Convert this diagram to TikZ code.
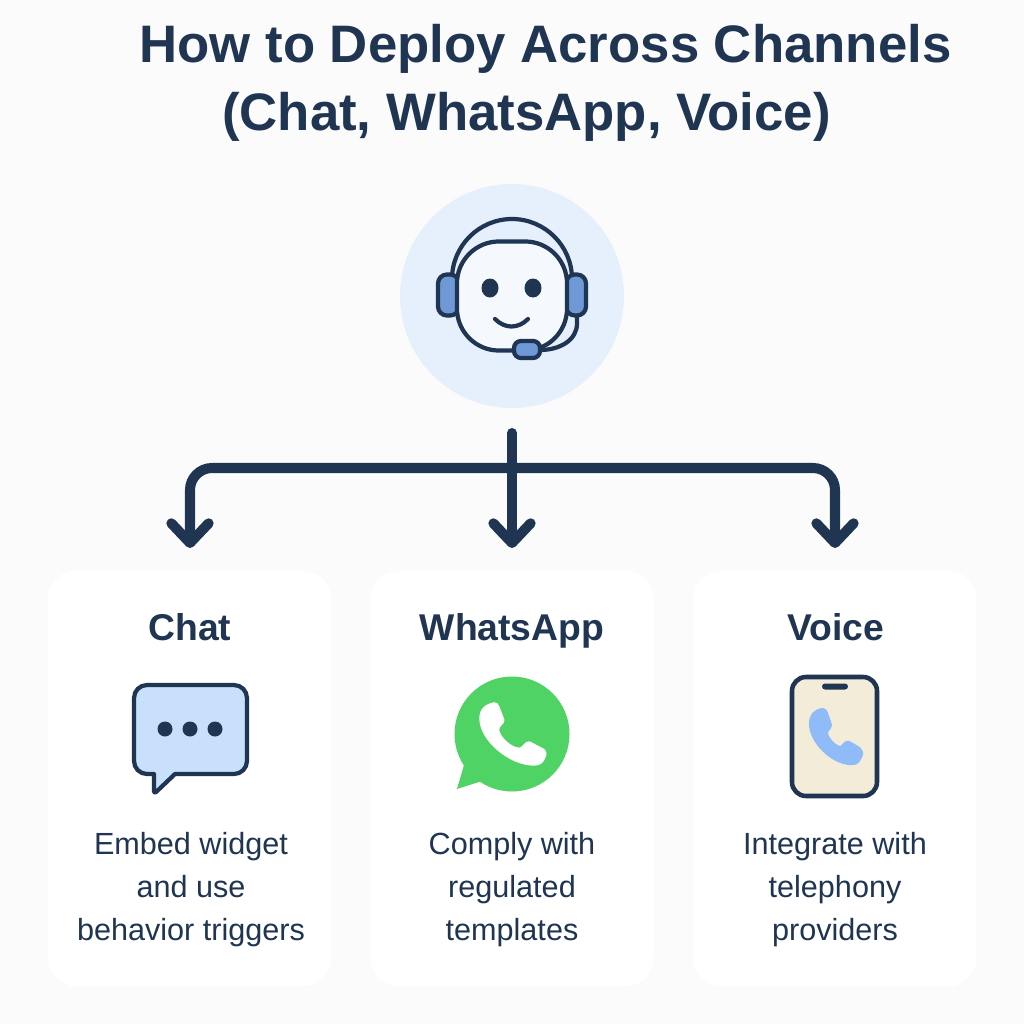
\documentclass[tikz,border=0pt]{standalone}
\usepackage{fontspec}
\setmainfont{Liberation Sans}
\usepackage{tikz}
\usetikzlibrary{arrows.meta,positioning}

\definecolor{ink}{HTML}{1F3552}
\definecolor{page}{HTML}{FBFBFC}
\definecolor{disc}{HTML}{E6F0FC}
\definecolor{facefill}{HTML}{F5F9FE}
\definecolor{cup}{HTML}{6F99D6}
\definecolor{bubble}{HTML}{C9E0FD}
\definecolor{wagreen}{HTML}{4FD364}
\definecolor{screen}{HTML}{F3ECD9}
\definecolor{receiver}{HTML}{8FBCF8}

\tikzset{
	card/.style={fill=white,rounded corners=0.28cm,minimum width=2.83cm,minimum height=4.15cm,inner sep=0pt},
	cardhead/.style={text=ink,anchor=base,font=\fontsize{10.6}{13}\selectfont\bfseries},
	cardtext/.style={text=ink,align=center,font=\fontsize{8.7}{12.2}\selectfont},
	bigtitle/.style={text=ink,anchor=base,font=\fontsize{15}{18}\selectfont\bfseries},
	flow/.style={draw=ink,line width=2.85pt,line cap=round,rounded corners=0.22cm},
	tipped/.style={-{Straight Barb[length=5.6pt,width=10.6pt,round]}},
	icon/.style={draw=ink,line width=1.2pt,line join=round},
	part/.style={icon,inner sep=0pt,outer sep=0pt}
}

\newcommand{\handset}[5]{
	\path[#1,line join=round,shift={(#2,#3)},xscale=#4,yscale=#5]
		(0,25) .. controls (0,10) and (8,3) .. (21,0) .. controls (24,-1) and (27,2) .. (28,5)
		-- (36,27) .. controls (37,33) and (28,36) .. (28,43)
		.. controls (29,55) and (48,74) .. (60,73) .. controls (66,72) and (68,62) .. (75,63)
		-- (95,74) .. controls (100,77) and (101,82) .. (98,88)
		.. controls (96,94) and (92,100) .. (82,100) .. controls (45,100) and (0,60) .. (0,25) -- cycle;
}

\begin{document}
\begin{tikzpicture}[x=0.01cm,y=-0.01cm,node distance=3.225cm]
	\path[use as bounding box,fill=page] (0,0) rectangle (1024,1024);

	\node[bigtitle]	(titletop)	at (545.5,62) {How to Deploy Across Channels};
	\node[bigtitle]	(titlebot)	at (526.5,130) {(Chat, WhatsApp, Voice)};

	\node[circle,fill=disc,minimum size=2.24cm,inner sep=0pt]	(hub)	at (512,296) {};
	\draw[icon] (452,279) .. controls (452,246) and (479,219) .. (512,219) .. controls (545,219) and (572,246) .. (572,279);
	\node[part,fill=cup,rounded corners=0.09cm,minimum width=0.21cm,minimum height=0.41cm]	(cupleft)	at (448.5,295) {};
	\node[part,fill=cup,rounded corners=0.09cm,minimum width=0.2cm,minimum height=0.41cm]	(cupright)	at (576,295) {};
	\node[part,fill=facefill,rounded corners=0.42cm,minimum width=1.1cm,minimum height=1.09cm]	(face)	at (512,296) {};
	\fill[ink] (490,288) ellipse[x radius=8.5,y radius=9.5];
	\fill[ink] (533,288) ellipse[x radius=8.5,y radius=9.5];
	\draw[icon,line cap=round] (495,319) .. controls (505,329) and (518,329) .. (528,319);
	\draw[icon] (cupright.south) ++(1,0) -- ++(0,8) .. controls (577,340) and (560,350) .. (540,350);
	\node[part,fill=cup,rounded corners=0.07cm,minimum width=0.26cm,minimum height=0.17cm]	(mic)	at (527,349.5) {};

	\coordinate	(fork)	at (512,468);
	\coordinate	(stem)	at (512,433);
	\coordinate	(chatin)	at (190,548);
	\coordinate	(appin)	at (512,548);
	\coordinate	(voicein)	at (835,548);
	\draw[flow,tipped] (fork) -| (chatin);
	\draw[flow,tipped] (fork) -| (voicein);
	\draw[flow,tipped] (stem) -- (appin);

	\node[card]	(chat)	at (189.5,778.5) {};
	\node[card]	(app)	[right of=chat] {};
	\node[card]	(voice)	[right of=app] {};

	\node[cardhead]	(chathead)	at (190,640) {Chat};
	\node[cardhead]	(apphead)	at (512,640) {WhatsApp};
	\node[cardhead]	(voicehead)	at (836,640) {Voice};

	\draw[icon,fill=bubble,rounded corners=0.13cm] (134,685) -- (247,685) -- (247,774) [sharp corners] -- (175,774) [rounded corners=0.03cm] -- (154,794) [sharp corners] -- (154,774) [rounded corners=0.13cm] -- (134,774) -- cycle;
	\foreach \dotx in {165,190,215}
		\fill[ink] (\dotx,729) circle[radius=7.5];

	\fill[wagreen] (512,734) circle[radius=57.5];
	\fill[wagreen] (464,765) -- (457,789) -- (482,781) -- (500,760) -- cycle;
	\handset{fill=white,draw=white,line width=0.4pt}{480}{703}{0.66}{0.62}

	\draw[icon,fill=screen,line width=1.3pt,rounded corners=0.14cm] (792,677) rectangle (877,796);
	\node[fill=ink,rounded corners=0.03cm,minimum width=0.26cm,minimum height=0.06cm,inner sep=0pt]	(speaker)	at (835,686.5) {};
	\handset{fill=receiver,draw=receiver,line width=1.5pt}{811.6}{710.6}{0.49}{0.52}

	\node[cardtext]	(chatbody)	at (191,889.5) {Embed widget\\and use\\behavior triggers};
	\node[cardtext]	(appbody)	at (512,889.5) {Comply with\\regulated\\templates};
	\node[cardtext]	(voicebody)	at (835,889.5) {Integrate with\\telephony\\providers};
\end{tikzpicture}
\end{document}
